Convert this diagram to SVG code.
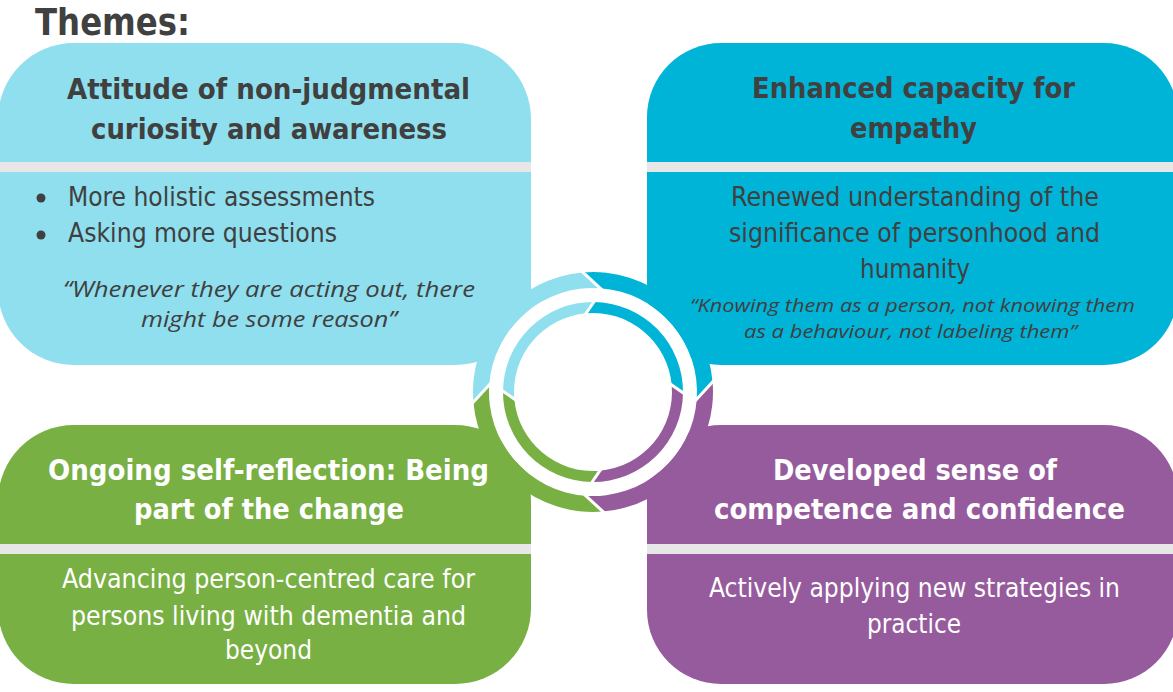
<svg xmlns="http://www.w3.org/2000/svg" width="1173" height="692" viewBox="0 0 1173 692">
<style>
.t{font-family:"DejaVu Sans Condensed","DejaVu Sans",sans-serif;font-weight:bold;font-size:28px;text-anchor:middle}
.b{font-family:"DejaVu Sans Condensed","DejaVu Sans",sans-serif;font-size:26px}
.h{font-family:"DejaVu Sans Condensed","DejaVu Sans",sans-serif;font-size:38px;font-weight:bold}
.c{text-anchor:middle}
.q{font-family:"Open Sans","Noto Sans",sans-serif;font-style:italic;text-anchor:middle}
.dk{fill:#404040}
.wh{fill:#ffffff}
.band{fill:#E7E7E7}
.sep{stroke:#ffffff;stroke-width:3;fill:none}
</style>
<defs>
<path id="outerSeg" d="M473.42,402.04 A120,120 0 0 1 582.96,272.42 L600.07,288.24 A104,104 0 0 0 489.24,384.93 Z"/>
<path id="innerSeg" d="M503.0,391.06 A90,90 0 0 1 593.94,302.0 L585.98,313.31 A79,79 0 0 0 514.31,399.02 Z"/>
<g id="seps">
<line class="sep" x1="580.8" y1="270.4" x2="602.3" y2="290.2"/>
<line class="sep" x1="595.6" y1="299.5" x2="584.3" y2="315.8"/>
</g>
</defs>
<g id="title" class="dk">
<text class="h" x="35" y="35" textLength="155" lengthAdjust="spacingAndGlyphs">Themes:</text>
</g>

<g id="node-tl">
<rect x="-2" y="43" width="533" height="322" rx="76" fill="#8FDFEE"/>
<rect class="band" x="-2" y="162" width="533" height="10"/>
</g>
<g id="node-tr">
<rect x="647" y="43" width="531" height="322" rx="74" fill="#00B4D8"/>
<rect class="band" x="647" y="162" width="531" height="10"/>
</g>
<g id="node-bl">
<rect x="-2" y="425" width="533" height="259" rx="76" fill="#78B043"/>
<rect class="band" x="-2" y="544" width="533" height="10"/>
</g>
<g id="node-br">
<rect x="647" y="425" width="531" height="259" rx="74" fill="#965B9C"/>
<rect class="band" x="647" y="544" width="531" height="10"/>
</g>

<g id="cycle">
<circle cx="593" cy="392" r="104" fill="#ffffff"/>
<use href="#outerSeg" fill="#8FDFEE"/>
<use href="#outerSeg" fill="#00B4D8" transform="rotate(90 593 392)"/>
<use href="#outerSeg" fill="#965B9C" transform="rotate(180 593 392)"/>
<use href="#outerSeg" fill="#78B043" transform="rotate(270 593 392)"/>
<use href="#innerSeg" fill="#8FDFEE"/>
<use href="#innerSeg" fill="#00B4D8" transform="rotate(90 593 392)"/>
<use href="#innerSeg" fill="#965B9C" transform="rotate(180 593 392)"/>
<use href="#innerSeg" fill="#78B043" transform="rotate(270 593 392)"/>
</g>
<g id="connectors">
<use href="#seps"/>
<use href="#seps" transform="rotate(90 593 392)"/>
<use href="#seps" transform="rotate(180 593 392)"/>
<use href="#seps" transform="rotate(270 593 392)"/>
</g>

<g id="text-tl" class="dk">
<text class="t" x="268.5" y="99" textLength="403" lengthAdjust="spacingAndGlyphs">Attitude of non-judgmental</text>
<text class="t" x="269" y="139" textLength="356" lengthAdjust="spacingAndGlyphs">curiosity and awareness</text>
<circle cx="41" cy="198" r="4.5"/>
<circle cx="41" cy="235" r="4.5"/>
<text class="b" x="68" y="206" textLength="307" lengthAdjust="spacingAndGlyphs">More holistic assessments</text>
<text class="b" x="68" y="242" textLength="269" lengthAdjust="spacingAndGlyphs">Asking more questions</text>
<text class="q" x="269" y="297" font-size="22" textLength="412" lengthAdjust="spacingAndGlyphs">“Whenever they are acting out, there</text>
<text class="q" x="269" y="327" font-size="22" textLength="256" lengthAdjust="spacingAndGlyphs">might be some reason”</text>
</g>
<g id="text-tr" class="dk">
<text class="t" x="913.5" y="98" textLength="323" lengthAdjust="spacingAndGlyphs">Enhanced capacity for</text>
<text class="t" x="913.5" y="138" textLength="127" lengthAdjust="spacingAndGlyphs">empathy</text>
<text class="b c" x="915" y="206" textLength="368" lengthAdjust="spacingAndGlyphs">Renewed understanding of the</text>
<text class="b c" x="914.5" y="242" textLength="371" lengthAdjust="spacingAndGlyphs">significance of personhood and</text>
<text class="b c" x="915" y="278" textLength="110" lengthAdjust="spacingAndGlyphs">humanity</text>
<text class="q" x="912.5" y="312" font-size="19" textLength="445" lengthAdjust="spacingAndGlyphs">“Knowing them as a person, not knowing them</text>
<text class="q" x="910.5" y="338" font-size="19" textLength="333" lengthAdjust="spacingAndGlyphs">as a behaviour, not labeling them”</text>
</g>
<g id="text-bl" class="wh">
<text class="t" x="268.5" y="480" textLength="441" lengthAdjust="spacingAndGlyphs">Ongoing self-reflection: Being</text>
<text class="t" x="269" y="519" textLength="270" lengthAdjust="spacingAndGlyphs">part of the change</text>
<text class="b c" x="268.5" y="588" textLength="413" lengthAdjust="spacingAndGlyphs">Advancing person-centred care for</text>
<text class="b c" x="268.5" y="625" textLength="395" lengthAdjust="spacingAndGlyphs">persons living with dementia and</text>
<text class="b c" x="268.5" y="659" textLength="87" lengthAdjust="spacingAndGlyphs">beyond</text>
</g>
<g id="text-br" class="wh">
<text class="t" x="915" y="480" textLength="284" lengthAdjust="spacingAndGlyphs">Developed sense of</text>
<text class="t" x="919.5" y="519" textLength="411" lengthAdjust="spacingAndGlyphs">competence and confidence</text>
<text class="b c" x="914.5" y="597" textLength="411" lengthAdjust="spacingAndGlyphs">Actively applying new strategies in</text>
<text class="b c" x="914" y="633" textLength="94" lengthAdjust="spacingAndGlyphs">practice</text>
</g>
</svg>
